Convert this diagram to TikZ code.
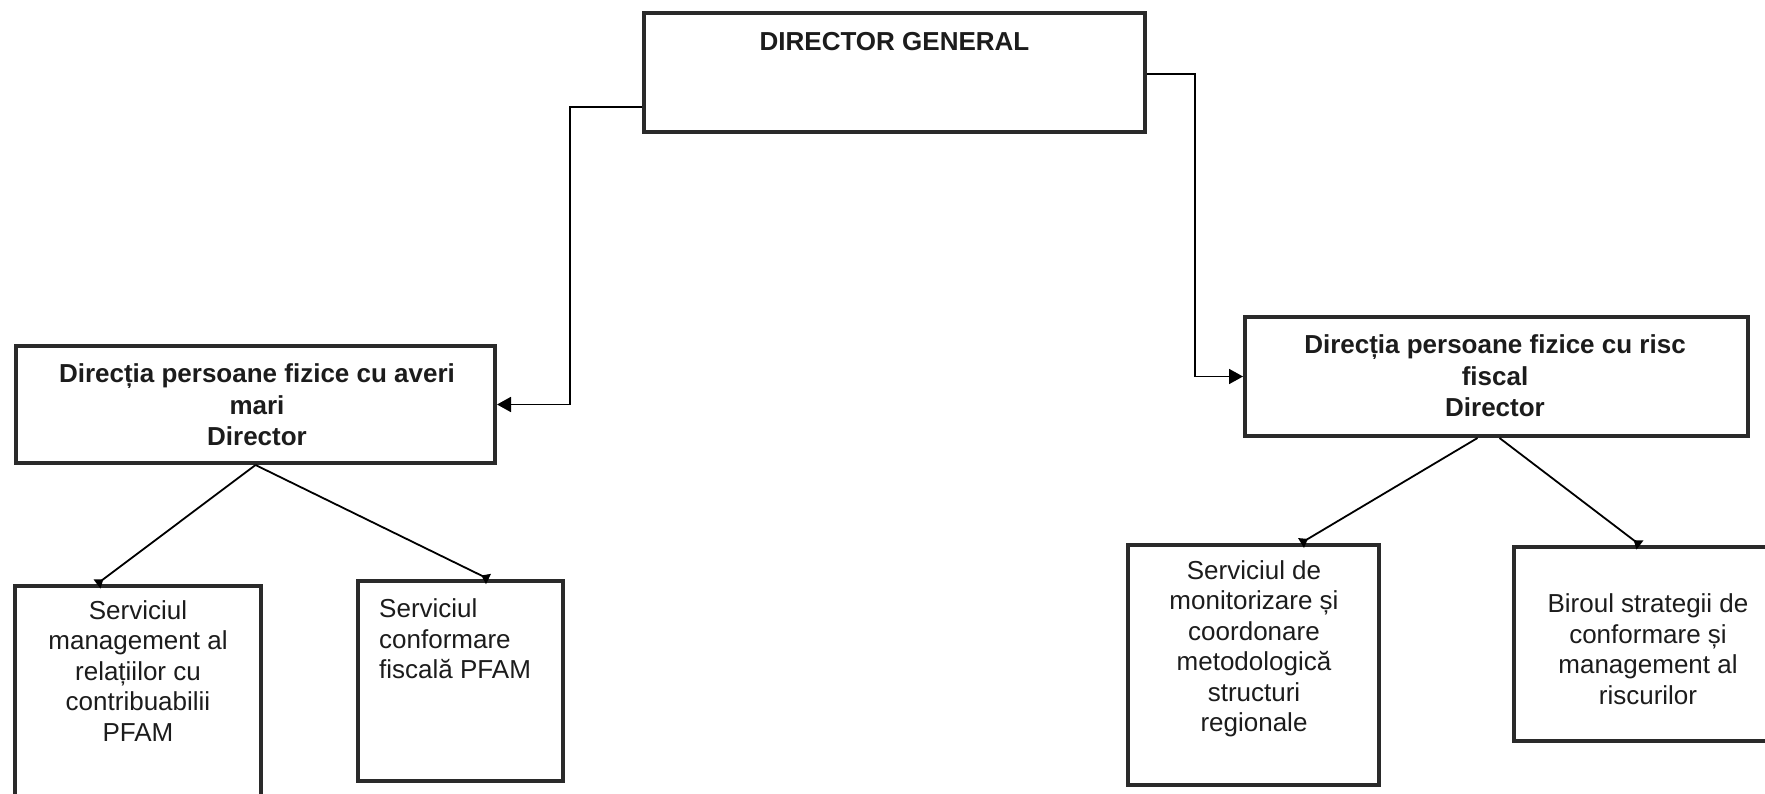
\documentclass[tikz,border=0pt]{standalone}
\usepackage{fontspec}
\setmainfont{Liberation Sans}
\usetikzlibrary{arrows.meta}
\definecolor{boxc}{HTML}{2A2A2A}
\definecolor{txt}{HTML}{1C1C1C}
\begin{document}
\begin{tikzpicture}[x=1pt,y=-1pt,
  box/.style={draw=boxc, line width=4pt, inner sep=0pt, fill=white},
  lbl/.style={font=\fontsize{26}{30.5}\selectfont, align=center, inner sep=0pt, text=txt},
  blbl/.style={font=\fontsize{26}{31.5}\selectfont\bfseries, align=center, inner sep=0pt, text=txt},
  elbow/.style={draw=black, line width=1.8pt, -{Triangle[length=14pt,width=15pt]}},
  branch/.style={draw=black, line width=1.8pt, -{Triangle[reversed,length=8pt,width=11pt]}}]
\useasboundingbox[fill=white] (0,0) rectangle (1765,794);
\clip (0,0) rectangle (1765,794);
% boxes
\node[box, minimum width=501pt, minimum height=119pt] (top) at (894.5,72.5) {};
\node[box, minimum width=479pt, minimum height=117pt] (dpam) at (255.5,404.5) {};
\node[box, minimum width=503pt, minimum height=119pt] (drf) at (1496.5,376.5) {};
\node[box, minimum width=246pt, minimum height=244pt] (box1) at (138,708) {};
\node[box, minimum width=205pt, minimum height=200pt] (box2) at (460.5,681) {};
\node[box, minimum width=251pt, minimum height=240pt] (box3) at (1253.5,665) {};
\node[box, minimum width=274pt, minimum height=194pt] (box4) at (1651,644) {};
% texts
\node[blbl] (t0) at (894.5,42) {DIRECTOR GENERAL};
\node[blbl] (t1) at (257,405) {Direcția persoane fizice cu averi\\mari\\Director};
\node[blbl] (t2) at (1495,376) {Direcția persoane fizice cu risc\\fiscal\\Director};
\node[lbl] (t3) at (138,671) {Serviciul\\management al\\relațiilor cu\\contribuabilii\\PFAM};
\node[lbl, align=left, anchor=west] (t4) at (379,639) {Serviciul\\conformare\\fiscală PFAM};
\node[lbl] (t5) at (1254,649) {Serviciul de\\monitorizare și\\coordonare\\metodologică\\structuri\\regionale};
\node[lbl] (t6) at (1648,649) {Biroul strategii de\\conformare și\\management al\\riscurilor};
% connectors
\coordinate (cl) at (570,404.5);
\coordinate (cr) at (1195,376.5);
\draw[elbow] ([yshift=-34.5pt]top.west) -| (cl) -- (dpam.east);
\draw[elbow] ([yshift=-1.5pt]top.east) -| (cr) -- (drf.west);
\draw[branch] (dpam.south) -- ([xshift=-41pt]box1.north);
\draw[branch] (dpam.south) -- ([xshift=28pt]box2.north);
\draw[branch] ([xshift=-19pt]drf.south) -- ([xshift=47.5pt]box3.north);
\draw[branch] ([xshift=3pt]drf.south) -- ([xshift=-11pt]box4.north);
\end{tikzpicture}
\end{document}
